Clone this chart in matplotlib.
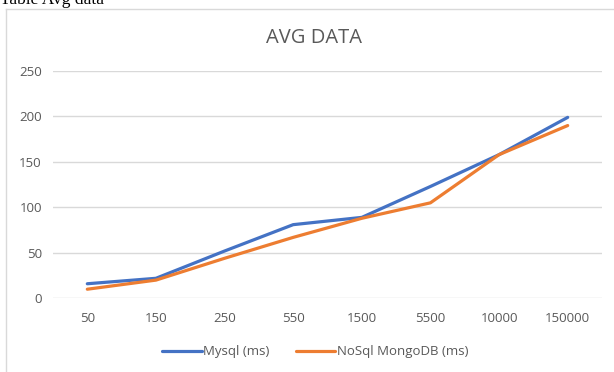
import matplotlib
matplotlib.use("Agg")
import matplotlib.pyplot as plt
from matplotlib.lines import Line2D

# data
categories = ["50", "150", "250", "550", "1500", "5500", "10000", "150000"]
mysql = [16, 22, 52, 81, 89, 123, 158, 199]
mongo = [10, 20, 44, 67, 88, 105, 158, 190]

txt = "#595959"
plt.rcParams["font.family"] = ["Open Sans", "DejaVu Sans"]

fig = plt.figure(figsize=(6.14, 3.72), dpi=100)
ax = fig.add_axes([53 / 614, (372 - 298.3) / 372, 549 / 614, 227.3 / 372])

x = range(len(categories))
ax.plot(x, mysql, color="#4472C4", lw=2.3, label="Mysql (ms)", solid_capstyle="round")
ax.plot(x, mongo, color="#ED7D31", lw=2.3, label="NoSql MongoDB (ms)", solid_capstyle="round")

ax.set_xlim(-0.5, len(categories) - 0.5)
ax.set_ylim(0, 250)
ax.set_yticks(range(0, 251, 50))
ax.set_xticks(list(x))
ax.set_xticklabels(categories)
ax.grid(axis="y", color="#D9D9D9", lw=1)
ax.set_axisbelow(True)
for s in ax.spines.values():
    s.set_visible(False)
ax.tick_params(length=0, colors=txt, labelsize=9.5)
ax.tick_params(axis="y", pad=8)
ax.tick_params(axis="x", pad=10)

# chart title and caption above the chart box
fig.text(314 / 614, 1 - 38 / 372, "AVG DATA", ha="center", va="center",
         fontsize=14.5, color=txt)
fig.text(0.0, 1 - 4 / 372, "Table Avg data", ha="left", va="baseline",
         fontsize=12.5, family="Liberation Serif", color="black")

# chart box border (left and top edges visible)
fig.add_artist(Line2D([6 / 614, 6 / 614], [0, 1 - 8.5 / 372], color="#D9D9D9", lw=1))
fig.add_artist(Line2D([6 / 614, 1], [1 - 8.5 / 372, 1 - 8.5 / 372], color="#D9D9D9", lw=1))

fig.legend(loc="center", bbox_to_anchor=(315 / 614, 1 - 352 / 372), ncol=2,
           frameon=False, fontsize=9.5, labelcolor=txt, handlelength=3.0,
           handletextpad=0.1, columnspacing=2.0)

fig.savefig("out.png", dpi=100)
